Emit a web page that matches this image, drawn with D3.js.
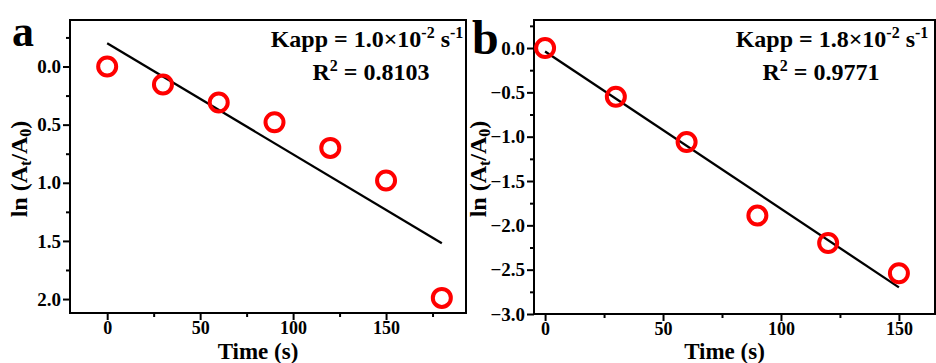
<!DOCTYPE html>
<html>
<head>
<meta charset="utf-8">
<script src="https://cdn.jsdelivr.net/npm/d3@7"></script>
<style>
  html, body { margin: 0; padding: 0; background: #fff; }
  svg { display: block; }
  svg text { font-family: "Liberation Serif", "Times New Roman", Tinos, Times, "DejaVu Serif", serif !important; font-weight: bold; fill: #000; }
</style>
</head>
<body>
<svg id="fig" width="936" height="363"></svg>
<script>
// Sampling times (s)
const timeA = [0, 30, 60, 90, 120, 150, 180];
const timeB = [0, 30, 60, 90, 120, 150];

// ln(At/A0) measurements
const lnA = [0.0, 0.155, 0.31, 0.48, 0.70, 0.98, 1.99];
const lnB = [0.0, -0.55, -1.06, -1.89, -2.20, -2.54];

// Linear fit end points
const fitTimeA = [0, 180];
const fitLnA = [-0.20, 1.52];
const fitTimeB = [0, 150];
const fitLnB = [-0.04, -2.70];

// Tick labels
const xTicks = [0, 50, 100, 150];
const xMinorTicks = [25, 75, 125, 175];
const yTicksA = [0.0, 0.5, 1.0, 1.5, 2.0];
const yMinorTicksA = [-0.25, 0.25, 0.75, 1.25, 1.75];
const yTicksB = [0.0, -0.5, -1.0, -1.5, -2.0, -2.5, -3.0];
const yMinorTicksB = [0.25, -0.25, -0.75, -1.25, -1.75, -2.25, -2.75];

// Annotations
const kappA = "1.0×10";
const r2A = "0.8103";
const kappB = "1.8×10";
const r2B = "0.9771";

const FONT = '"Liberation Serif", "Times New Roman", Tinos, Times, "DejaVu Serif", serif';
const svg = d3.select("#fig").attr("font-family", FONT).attr("font-weight", "bold");

function panel(cfg) {
  const g = svg.append("g");
  const x = d3.scaleLinear().domain(cfg.xDomain).range([cfg.left, cfg.right]);
  const y = d3.scaleLinear().domain(cfg.yDomain).range([cfg.top, cfg.bottom]);

  // minor ticks
  g.append("g")
    .attr("transform", `translate(0,${cfg.bottom})`)
    .call(d3.axisBottom(x).tickValues(cfg.xMinor.filter(v => v >= cfg.xDomain[0] && v <= cfg.xDomain[1])).tickSize(4).tickFormat(""))
    .call(a => a.select(".domain").remove());
  g.append("g")
    .attr("transform", `translate(${cfg.left},0)`)
    .call(d3.axisLeft(y).tickValues(cfg.yMinor).tickSize(4).tickFormat(""))
    .call(a => a.select(".domain").remove());

  // major ticks
  const xa = g.append("g")
    .attr("transform", `translate(0,${cfg.bottom})`)
    .call(d3.axisBottom(x).tickValues(cfg.xTicks).tickSize(7).tickPadding(2).tickFormat(d3.format("d")));
  xa.select(".domain").remove();
  xa.selectAll("text").style("font-size", "18px").attr("dy", "0.66em");
  const ya = g.append("g")
    .attr("transform", `translate(${cfg.left},0)`)
    .call(d3.axisLeft(y).tickValues(cfg.yTicks).tickSize(7).tickPadding(2).tickFormat(cfg.yFormat));
  ya.select(".domain").remove();
  ya.selectAll("text").style("font-size", "19px");
  g.selectAll(".tick line").attr("stroke", "#000").attr("stroke-width", 2);
  g.selectAll("g").attr("font-family", FONT);

  // frame
  g.append("rect")
    .attr("x", cfg.left).attr("y", cfg.top)
    .attr("width", cfg.right - cfg.left).attr("height", cfg.bottom - cfg.top)
    .attr("fill", "none").attr("stroke", "#000").attr("stroke-width", 2);

  // fit line
  const fit = cfg.fitT.map((t, i) => [t, cfg.fitV[i]]);
  g.append("path")
    .datum(fit)
    .attr("d", d3.line().x(d => x(d[0])).y(d => y(d[1])))
    .attr("stroke", "#000").attr("stroke-width", 2.3).attr("fill", "none");

  // measured points
  g.selectAll("circle.pt")
    .data(cfg.t.map((t, i) => [t, cfg.v[i]]))
    .join("circle")
    .attr("class", "pt")
    .attr("cx", d => x(d[0])).attr("cy", d => y(d[1]))
    .attr("r", 9)
    .attr("fill", "none").attr("stroke", "#ff0000").attr("stroke-width", 4);

  // axis titles
  g.append("text")
    .attr("x", (cfg.left + cfg.right) / 2 - 10).attr("y", 359)
    .attr("text-anchor", "middle").style("font-size", "23px")
    .text("Time (s)");
  const yl = g.append("text")
    .attr("transform", `translate(${cfg.yTitleX},${cfg.yTitleY}) rotate(-90)`)
    .attr("text-anchor", "middle").style("font-size", "24px");
  yl.append("tspan").text("ln (A");
  yl.append("tspan").text("t").style("font-size", "16px").attr("dy", 4);
  yl.append("tspan").text("/A").attr("dy", -4);
  yl.append("tspan").text("0").style("font-size", "16px").attr("dy", 4);
  yl.append("tspan").text(")").attr("dy", -4);

  // panel letter
  g.append("text")
    .attr("x", cfg.letterX).attr("y", cfg.letterY)
    .style("font-size", cfg.letterSize + "px")
    .text(cfg.letter);

  // rate constant and R²
  const k = g.append("text")
    .attr("x", cfg.annX).attr("y", 47)
    .attr("text-anchor", "middle").style("font-size", "24px");
  k.append("tspan").text("Kapp = " + cfg.kapp);
  k.append("tspan").text("-2").style("font-size", "16px").attr("dy", -9);
  k.append("tspan").text(" s").attr("dy", 9);
  k.append("tspan").text("-1").style("font-size", "16px").attr("dy", -9);

  const r = g.append("text")
    .attr("x", cfg.annX + cfg.r2Shift).attr("y", 80)
    .attr("text-anchor", "middle").style("font-size", "24px");
  r.append("tspan").text("R");
  r.append("tspan").text("2").style("font-size", "16px").attr("dy", -9);
  r.append("tspan").text(" = " + cfg.r2).attr("dy", 9);
}

panel({
  left: 70, right: 466, top: 20, bottom: 313,
  xDomain: [-20, 193], yDomain: [-0.4, 2.12],
  xTicks: xTicks, xMinor: xMinorTicks,
  yTicks: yTicksA, yMinor: yMinorTicksA, yFormat: d3.format(".1f"),
  t: timeA, v: lnA, fitT: fitTimeA, fitV: fitLnA,
  yTitleX: 27, yTitleY: 169,
  letter: "a", letterX: 12, letterY: 46, letterSize: 44,
  annX: 367, r2Shift: 4, kapp: kappA, r2: r2A
});

panel({
  left: 534, right: 935, top: 20, bottom: 314,
  xDomain: [-4.7, 165.3], yDomain: [0.316, -3.0],
  xTicks: xTicks, xMinor: xMinorTicks,
  yTicks: yTicksB, yMinor: yMinorTicksB, yFormat: d3.format(".1f"),
  t: timeB, v: lnB, fitT: fitTimeB, fitV: fitLnB,
  yTitleX: 486, yTitleY: 169,
  letter: "b", letterX: 472, letterY: 54, letterSize: 48,
  annX: 832, r2Shift: -11, kapp: kappB, r2: r2B
});
</script>
</body>
</html>
